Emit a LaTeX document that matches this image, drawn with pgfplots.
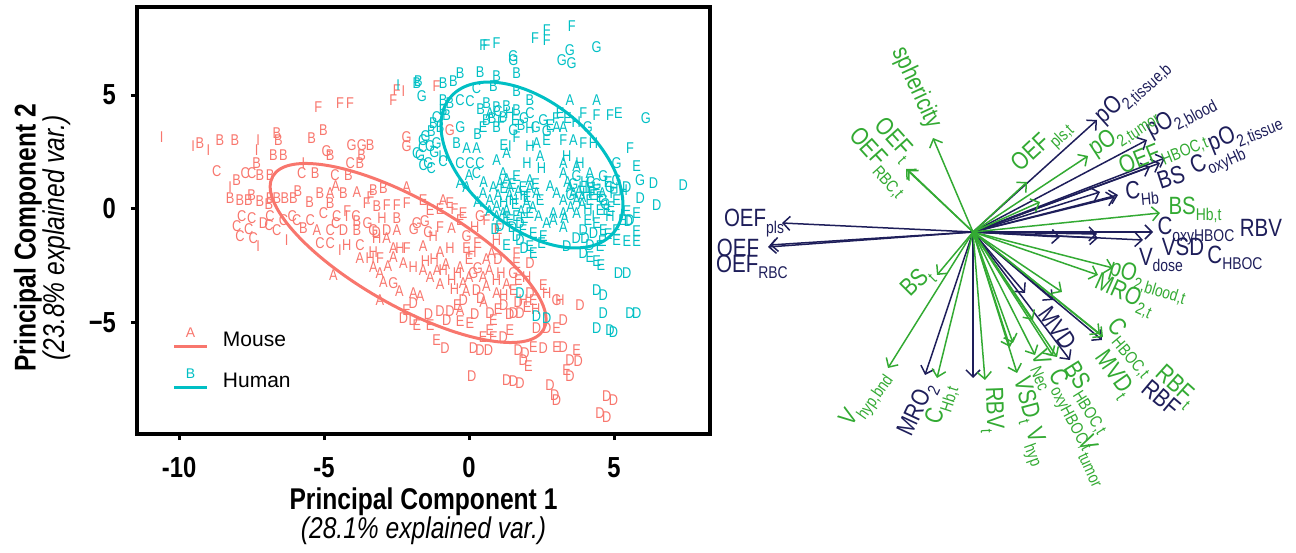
\documentclass[border=0pt]{standalone}
\usepackage{fontspec}
\setmainfont{Liberation Sans}
\newfontfamily\narrow{Liberation Sans}[FakeStretch=0.82]
\usepackage{pgfplots}
\pgfplotsset{compat=1.18}
\usepackage{pgfplotstable}
\usetikzlibrary{arrows.meta}

\definecolor{mouse}{HTML}{F8766D}
\definecolor{human}{HTML}{00BFC4}
\definecolor{navy}{HTML}{1E1E5A}
\definecolor{bgreen}{HTML}{33AA33}

\newcommand{\lsub}[1]{\raisebox{-0.5ex}{\fontsize{8.5}{8.5}\selectfont #1}}
\tikzset{lab/.style={font=\narrow\fontsize{12.5}{12.5}\selectfont, inner sep=0pt, anchor=center}}

% PCA scores, mouse
\pgfplotstableread{
x y l
-10.60 3.17 I
-9.28 2.88 B
-9.51 2.74 I
-8.99 2.59 I
-8.59 3.03 B
-8.07 3.03 B
-7.27 3.03 I
-6.63 3.32 B
-6.57 3.03 B
-5.43 3.10 B
-5.02 3.47 B
-4.05 2.81 G
-3.70 2.81 G
-3.41 2.81 B
-6.75 2.37 B
-6.40 2.37 B
-7.32 2.59 I
-4.91 2.52 G
-4.79 2.37 B
-3.70 2.37 B
-4.10 2.00 C
-3.76 2.00 B
-7.32 2.00 B
-8.70 1.64 C
-7.72 1.57 C
-7.49 1.57 C
-7.21 1.49 B
-6.86 1.49 B
-8.01 1.27 B
-5.77 1.57 C
-5.31 1.57 B
-4.62 1.49 C
-4.16 1.49 B
-5.71 2.00 I
-8.24 0.98 I
-8.24 0.47 B
-7.90 0.40 B
-7.61 0.40 B
-7.21 0.33 B
-6.86 0.47 B
-6.63 0.47 B
-6.35 0.47 B
-6.06 0.47 B
-5.14 0.69 B
-4.79 0.69 A
-4.33 0.69 B
-3.87 0.76 A
-3.30 0.83 B
-2.95 0.91 B
-2.15 0.98 A
-7.84 -0.33 C
-7.49 -0.41 C
-6.86 -0.33 C
-6.40 -0.48 C
-8.01 -0.77 C
-7.09 -0.63 D
-7.90 -1.21 C
-7.44 -1.28 C
-7.27 -1.65 I
-6.63 -0.92 C
-6.29 -1.36 I
-5.94 -0.48 C
-5.48 -0.48 C
-5.71 -0.85 B
-5.25 -0.92 A
-5.14 -1.50 C
-4.79 -1.50 C
-5.02 -0.19 C
-4.79 0.25 B
-3.53 0.25 F
-3.18 0.11 B
-2.84 0.18 F
-2.49 0.18 F
-2.15 0.25 F
-1.58 0.40 E
-1.34 -0.04 E
-0.89 0.40 A
-0.66 0.25 E
-4.56 -0.33 C
-4.22 -0.33 I
-3.87 -0.55 B
-2.49 -0.41 B
-4.79 -0.92 C
-4.33 -0.92 D
-3.87 -0.92 B
-3.30 -0.92 G
-2.84 -0.92 D
-2.49 -0.92 A
-1.80 -0.63 G
-1.52 -0.55 G
-1.00 -0.78 F
-0.60 -0.85 A
-1.23 -1.21 H
-0.08 -1.21 G
0.95 -1.36 H
-4.22 -1.58 H
-3.76 -1.58 C
-3.18 -1.30 H
-2.84 -1.30 A
-4.45 -1.80 I
-2.61 -1.72 A
-2.38 -1.72 H
-2.15 -1.72 F
-1.58 -1.65 A
-0.66 -1.72 H
-0.08 -1.72 E
0.78 -1.94 A
-3.76 -2.16 A
-3.41 -2.16 H
-3.07 -2.16 F
-2.61 -2.09 A
-2.26 -2.38 A
-1.92 -2.53 H
-1.58 -2.67 A
-1.34 -2.97 A
-0.89 -2.67 H
-0.31 -2.53 A
0.15 -2.82 G
0.49 -2.97 A
-0.20 -3.26 A
0.95 -3.11 H
1.53 -2.82 G
1.99 -2.97 H
1.64 -2.38 E
0.26 -3.55 D
0.95 -3.70 A
1.53 -3.55 E
2.10 -3.70 D
2.68 -3.70 H
3.02 -3.99 G
2.56 -3.33 E
2.10 -2.38 D
1.64 -1.94 F
-3.30 -2.53 A
-3.07 -2.82 A
-4.68 -2.89 A
-2.95 -3.19 A
-2.61 -3.26 G
-1.92 -3.70 A
-1.69 -3.84 A
-3.07 -3.99 A
-1.92 -4.13 D
-2.15 -4.43 E
-2.26 -4.79 D
-1.92 -4.87 D
-1.80 -5.08 E
-1.34 -5.08 E
-1.00 -4.50 D
-0.66 -4.50 D
-0.31 -4.43 A
-0.77 -4.87 D
-0.31 -4.94 E
0.03 -5.01 E
-0.20 -3.99 D
0.72 -4.58 D
0.84 -4.87 E
0.72 -5.31 E
0.49 -5.60 E
0.84 -5.60 E
1.18 -5.60 D
1.41 -5.31 E
1.53 -4.58 D
1.76 -4.58 D
1.87 -3.99 H
2.22 -3.99 E
2.33 -5.23 D
2.68 -5.23 D
3.02 -5.23 E
3.25 -4.87 D
3.83 -4.21 D
2.22 -6.04 E
2.56 -6.11 D
3.02 -6.04 E
3.25 -6.04 D
-1.12 -5.75 E
-0.83 -6.11 D
0.15 -6.11 D
0.38 -6.18 D
0.67 -6.18 D
1.70 -6.18 D
1.93 -6.33 D
1.87 -6.62 D
2.05 -6.91 E
3.48 -6.62 D
3.77 -6.69 D
3.71 -6.18 E
3.37 -7.06 E
3.48 -7.35 D
2.79 -7.72 D
2.96 -8.16 D
3.02 -8.38 D
0.09 -7.35 D
1.30 -7.50 D
1.53 -7.57 D
1.76 -7.64 D
4.75 -8.23 D
4.98 -8.38 D
4.52 -8.96 D
4.75 -9.11 D
3.14 -3.99 H
-5.20 4.49 F
-4.45 4.63 F
-4.10 4.63 F
-2.61 4.78 F
-2.49 5.22 F
-2.26 5.15 I
-1.12 5.37 F
-2.15 3.17 G
-2.15 2.74 G
-0.66 3.47 G
-0.20 -0.19 E
0.38 -0.33 G
0.60 -0.50 F
1.00 -0.90 E
1.00 -2.20 D
2.30 -4.40 H
-1.00 -3.30 A
-0.50 -3.50 H
0.50 -4.10 A
1.20 -4.20 D
0.00 -2.20 E
-1.20 -2.20 H
-0.80 -2.40 A
-0.40 -2.80 H
0.00 -3.00 A
0.30 -2.60 G
0.70 -2.70 A
1.10 -2.80 H
1.30 -3.30 A
1.70 -3.10 E
1.20 -3.80 H
0.60 -3.40 A
0.40 -3.90 D
-0.10 -3.60 A
-0.60 -3.10 H
-1.10 -2.70 A
-1.50 -2.30 H
-1.00 -1.90 A
0.30 -1.50 E
0.60 -2.20 A
0.10 -1.90 H
1.70 -4.10 D
2.00 -4.30 E
1.40 -4.60 D
1.00 -4.40 E
0.20 -4.60 D
-0.40 -4.20 E
-1.40 -4.60 D
-2.40 -3.60 A
-2.80 -2.50 A
-3.30 -1.90 H
-4.60 -0.60 C
-4.20 -0.10 F
-3.90 -0.30 C
-3.50 -0.60 G
-3.00 -0.40 H
-3.20 -1.00 D
-3.40 0.50 F
-5.50 0.30 B
-5.90 0.80 B
-4.60 1.00 A
-6.10 -0.30 C
-6.90 -0.70 C
-7.60 -0.90 C
-7.50 0.60 B
-6.90 0.20 B
-1.90 -0.90 G
-1.40 -1.00 G
-1.00 0.00 E
-0.50 0.00 F
-0.30 -0.50 E
0.20 -0.80 H
}\mousedata

% PCA scores, human
\pgfplotstableread{
x y l
0.49 7.19 F
0.60 7.19 F
0.95 7.27 F
2.28 7.49 F
2.68 7.85 F
2.68 7.41 F
3.54 8.00 F
3.48 6.98 G
3.20 6.54 G
3.54 6.39 G
4.40 7.12 G
1.53 6.54 G
1.53 6.70 G
1.64 5.95 B
-0.31 5.95 B
0.38 6.02 B
0.95 5.81 B
-1.80 5.51 B
-1.75 5.60 B
-0.89 5.51 B
-0.54 5.59 B
-1.63 4.93 G
0.26 5.30 C
0.84 5.37 B
1.64 5.15 B
2.10 4.78 B
-2.44 5.44 I
-0.89 4.78 B
-0.66 4.63 B
-0.31 4.78 C
0.03 4.71 C
0.61 4.63 B
0.95 4.49 B
0.72 4.20 A
1.18 4.05 B
1.64 4.34 B
2.10 4.20 C
2.56 3.91 G
0.49 3.61 E
0.95 3.61 B
1.53 3.47 G
2.10 3.54 H
2.68 3.40 G
3.48 4.78 A
4.40 4.78 A
3.14 4.20 E
3.94 4.20 F
4.40 4.13 F
4.86 4.13 F
5.15 4.20 E
6.10 3.98 G
-1.23 3.76 B
-1.12 4.05 C
-0.77 4.12 B
-0.89 4.34 B
-1.58 3.03 G
-1.34 2.74 G
-1.69 2.37 G
-1.40 2.00 G
-1.12 2.88 G
-1.80 2.44 C
-1.58 1.93 C
-1.00 2.30 I
-0.77 2.30 I
-0.43 2.88 B
-0.31 2.00 C
0.03 2.00 C
0.38 2.00 C
0.26 1.57 C
-0.08 2.66 A
0.26 2.66 A
0.95 2.15 A
1.30 2.44 A
1.41 2.74 I
1.64 3.17 F
2.10 2.74 H
2.45 2.30 A
2.33 2.88 A
2.68 3.03 E
3.02 3.61 A
3.25 3.61 A
3.25 3.03 F
3.60 3.03 A
3.94 2.88 F
4.29 2.88 H
3.37 2.30 H
3.83 2.00 H
5.55 2.65 F
5.09 2.00 G
5.78 1.86 E
3.25 2.00 A
3.71 1.90 A
1.18 1.57 A
1.64 1.42 E
2.10 1.27 A
1.41 0.98 A
1.87 0.98 E
2.33 0.69 A
1.53 0.40 H
1.99 0.25 A
2.45 0.40 E
1.18 -0.19 A
1.64 -0.33 E
2.10 -0.19 E
1.07 1.13 A
0.84 0.98 A
-0.31 1.13 A
-0.08 0.98 A
0.49 0.69 A
0.72 0.40 A
0.95 0.11 A
1.30 -0.04 A
0.95 -0.33 A
3.25 1.57 A
3.71 1.42 G
4.17 1.57 A
4.63 1.42 G
5.09 1.27 G
3.48 0.98 A
3.94 0.98 H
4.40 0.84 E
4.86 0.98 G
5.32 0.84 H
3.25 0.40 A
3.71 0.40 A
4.17 0.40 E
4.63 0.40 G
5.09 0.40 E
3.02 0.69 A
3.60 0.69 A
4.06 0.69 H
4.52 0.54 E
4.98 0.69 F
5.44 0.98 D
3.25 -0.19 A
3.71 -0.19 A
2.91 -0.19 A
2.91 -0.48 A
2.68 -0.63 A
3.25 -0.78 A
4.52 -0.04 E
4.75 -0.06 E
4.29 -0.33 I
4.86 -0.33 H
5.55 -0.48 D
5.78 -0.19 E
5.30 -0.50 E
3.94 -0.92 D
4.29 -1.07 D
4.63 -0.92 E
5.09 -0.92 E
5.09 -1.36 E
5.44 -1.43 E
5.78 -1.43 E
3.37 -1.65 D
4.17 -1.58 D
4.52 -1.65 E
3.94 -1.94 D
4.17 -2.09 E
4.40 -2.30 E
4.55 -2.45 E
5.15 -2.82 D
5.44 -2.82 D
1.07 -0.77 D
1.41 -0.48 E
1.76 -0.63 D
1.64 -1.21 D
1.87 -0.92 E
2.22 -1.07 E
2.10 -1.65 E
2.22 -1.94 E
1.76 -1.36 D
2.56 -1.21 E
1.76 -3.70 D
4.40 -3.55 D
4.63 -3.77 D
5.55 -4.58 D
5.78 -4.58 D
4.63 -4.58 D
4.40 -5.23 D
4.98 -5.38 D
4.86 -5.31 D
2.33 -4.72 D
2.68 -4.79 D
5.90 1.27 G
6.36 1.13 D
7.39 1.06 D
5.90 0.47 D
6.47 0.18 D
5.44 -0.11 E
5.50 -0.55 D
5.78 -0.99 E
2.50 1.80 H
2.80 1.00 A
4.20 1.20 G
4.10 -0.50 E
3.90 0.20 A
2.00 2.00 H
1.20 2.80 E
0.30 3.30 B
-0.30 3.60 G
-1.60 2.70 C
1.30 1.30 A
1.50 1.10 E
1.70 0.80 A
1.90 0.60 H
2.10 0.90 A
2.30 1.10 E
1.40 0.60 A
1.60 0.20 E
1.80 -0.10 A
2.00 0.50 E
2.20 0.10 A
1.20 0.30 H
1.00 0.60 A
1.30 -0.40 E
1.50 -0.80 D
1.90 -0.40 E
2.40 -0.30 A
1.20 0.90 E
3.40 1.20 A
3.60 1.10 G
3.80 0.80 A
4.00 1.20 H
4.20 0.90 E
4.40 1.10 G
4.60 0.70 A
4.80 1.20 E
5.00 0.90 H
3.50 0.60 G
3.90 0.50 A
4.30 0.60 E
4.70 0.20 G
4.90 0.10 E
3.50 0.10 A
4.10 0.00 H
3.30 -0.40 A
4.40 -0.60 E
4.00 -1.30 D
4.80 -1.10 E
4.60 -1.40 E
3.70 -1.30 D
0.40 4.40 B
0.80 4.00 B
1.00 4.30 C
1.30 4.50 B
1.60 3.90 E
1.90 4.00 G
0.60 3.90 B
1.10 3.80 F
1.40 4.20 H
1.80 3.70 B
2.30 3.60 G
2.80 3.70 E
3.00 4.00 F
3.40 4.00 E
3.70 3.80 H
4.10 3.60 G
-1.50 3.20 G
-1.30 3.40 B
-1.00 3.60 B
-1.20 2.50 G
-0.90 2.10 C
-1.30 1.80 C
0.00 1.50 A
0.50 1.20 A
0.30 0.30 A
0.70 -0.10 A
0.90 -0.90 D
1.30 -1.60 E
1.90 -1.70 D
2.50 -1.50 E
}\humandata

% biplot loadings (arrow tips, drawing units)
\pgfplotstableread{
x y u v
0 0 -191 9
0 0 -205 -15
0 0 -203 -13
0 0 124 112
0 0 174 92
0 0 192 74
0 0 187 69
0 0 177 65
0 0 145 37
0 0 127 40
0 0 142 35
0 0 180 0
0 0 170 -8
0 0 124 -2
0 0 87 -5
0 0 125 -6
0 0 97 -128
0 0 129 -108
0 0 52 -61
0 0 80 -68
0 0 -48 -143
0 0 0 -146
}\navyload

\pgfplotstableread{
x y u v
0 0 -40 94
0 0 -65 62
0 0 -67 63
0 0 54 50
0 0 115 76
0 0 67 30
0 0 187 19
0 0 140 -36
0 0 125 -43
0 0 89 -60
0 0 127 -102
0 0 130 -105
0 0 84 -125
0 0 80 -124
0 0 60 -88
0 0 62 -123
0 0 44 -141
0 0 40 -111
0 0 37 -115
0 0 12 -148
0 0 -36 -146
0 0 -85 -136
0 0 -36 -43
}\greenload

\begin{document}
\begin{tikzpicture}
\useasboundingbox (0,0) rectangle (648pt,276pt);

\begin{axis}[
  at={(68.5pt,59pt)}, anchor=south west,
  width=286.5pt, height=213.5pt, scale only axis,
  xmin=-11.45, xmax=8.31, ymin=-9.87, ymax=8.86,
  xtick={-10,-5,0,5}, xticklabels={-10,-5,0,5},
  ytick={-5,0,5}, yticklabels={−5,0,5},
  tick pos=left, tick align=outside,
  major tick length=3pt,
  tick style={line width=1.5pt, black},
  axis line style={line width=1.8pt},
  ticklabel style={font=\narrow\bfseries\fontsize{14.5}{14.5}\selectfont},
  xticklabel style={yshift=-5pt},
  yticklabel style={xshift=-4pt},
  xlabel={{\bfseries Principal Component 1}\\{\itshape (28.1\% explained var.)}},
  ylabel={{\bfseries Principal Component 2}\\{\itshape (23.8\% explained var.)}},
  label style={font=\narrow\fontsize{15}{14.5}\selectfont, align=center},
  xlabel style={at={(axis description cs:0.5,-0.193)}, anchor=center},
  ylabel style={at={(axis description cs:-0.165,0.46)}, anchor=center},
  nodes near coords style={font=\narrow\fontsize{7.8}{7.8}\selectfont, anchor=center, inner sep=0pt},
]
\addplot[draw=none, nodes near coords, point meta=explicit symbolic,
  nodes near coords style={text=mouse}] table[x=x, y=y, meta=l] {\mousedata};
\addplot[draw=none, nodes near coords, point meta=explicit symbolic,
  nodes near coords style={text=human}] table[x=x, y=y, meta=l] {\humandata};

% normal-probability ellipses
\draw[mouse, line width=1.5pt, rotate around={-29.5:(axis cs:-2.10,-1.93)}]
  (axis cs:-2.10,-1.93) ellipse [x radius=77.8pt, y radius=26.6pt];
\draw[human, line width=1.5pt, rotate around={-39.5:(axis cs:2.17,1.93)}]
  (axis cs:2.17,1.93) ellipse [x radius=53pt, y radius=31.3pt];

% legend
\draw[mouse, line width=1.5pt] (axis cs:-10.17,-6.01) -- (axis cs:-9.03,-6.01);
\node[mouse, font=\fontsize{7}{7}\selectfont, inner sep=0pt] at (axis cs:-9.6,-5.42) {A};
\node[anchor=west, inner sep=0pt, font=\fontsize{10.5}{10.5}\selectfont] at (axis cs:-8.5,-5.72) {Mouse};
\draw[human, line width=1.5pt] (axis cs:-10.17,-7.81) -- (axis cs:-9.03,-7.81);
\node[human, font=\fontsize{7}{7}\selectfont, inner sep=0pt] at (axis cs:-9.6,-7.22) {B};
\node[anchor=west, inner sep=0pt, font=\fontsize{10.5}{10.5}\selectfont] at (axis cs:-8.5,-7.52) {Human};
\end{axis}

\begin{axis}[
  at={(357.5pt,0pt)}, anchor=south west,
  width=290.5pt, height=276pt, scale only axis,
  xmin=-258, xmax=323, ymin=-320, ymax=232,
  hide axis, clip=false,
]
\addplot[navy, line width=0.75pt, -{Straight Barb[length=3.5pt,width=7pt]},
  quiver={u=\thisrow{u}, v=\thisrow{v}}] table {\navyload};
\addplot[bgreen, line width=0.75pt, -{Straight Barb[length=3.5pt,width=7pt]},
  quiver={u=\thisrow{u}, v=\thisrow{v}}] table {\greenload};

\node[lab, navy] at (axis cs:-219,9) {OEF\lsub{pls}};
\node[lab, navy] at (axis cs:-235,-16) {OEF};
\node[lab, navy] at (axis cs:-221,-35) {OEF\lsub{RBC}};
\node[lab, navy, rotate=42] at (axis cs:160,140) {pO\lsub{2,tissue,b}};
\node[lab, navy, rotate=28] at (axis cs:208,115) {pO\lsub{2,blood}};
\node[lab, navy, rotate=22] at (axis cs:272,99) {pO\lsub{2,tissue}};
\node[lab, navy, rotate=18] at (axis cs:198,55) {BS};
\node[lab, navy, rotate=24] at (axis cs:245,72) {C\lsub{oxyHb}};
\node[lab, navy, rotate=5] at (axis cs:169,39) {C\lsub{Hb}};
\node[lab, navy] at (axis cs:223,1) {C\lsub{oxyHBOC}};
\node[lab, navy] at (axis cs:288,4) {RBV};
\node[lab, navy] at (axis cs:210,-15) {VSD};
\node[lab, navy] at (axis cs:188,-28) {V\lsub{dose}};
\node[lab, navy] at (axis cs:262,-26) {C\lsub{HBOC}};
\node[lab, navy, rotate=-55] at (axis cs:85,-96) {MVD};
\node[lab, navy, rotate=-40] at (axis cs:188,-166) {RBF};
\node[lab, navy, rotate=65] at (axis cs:-55,-178) {MRO\lsub{2}};

\node[lab, bgreen, rotate=-65] at (axis cs:-57,144) {sphericity};
\node[lab, bgreen, rotate=-48] at (axis cs:-80,92) {OEF\lsub{t}};
\node[lab, bgreen, rotate=-48] at (axis cs:-95,69) {OEF\lsub{RBC,t}};
\node[lab, bgreen, rotate=43] at (axis cs:70,85) {OEF\lsub{pls,t}};
\node[lab, bgreen, rotate=33] at (axis cs:151,99) {pO\lsub{2,tumor}};
\node[lab, bgreen, rotate=22] at (axis cs:190,78) {OEF\lsub{HBOC,t}};
\node[lab, bgreen] at (axis cs:222,22) {BS\lsub{Hb,t}};
\node[lab, bgreen, rotate=-17] at (axis cs:175,-50) {pO\lsub{2,blood,t}};
\node[lab, bgreen, rotate=-24] at (axis cs:151,-64) {MRO\lsub{2,t}};
\node[lab, bgreen, rotate=-50] at (axis cs:157,-116) {C\lsub{HBOC,t}};
\node[lab, bgreen, rotate=-55] at (axis cs:140,-143) {MVD\lsub{t}};
\node[lab, bgreen, rotate=-42] at (axis cs:202,-155) {RBF\lsub{t}};
\node[lab, bgreen, rotate=-58] at (axis cs:114,-166) {BS\lsub{HBOC,t}};
\node[lab, bgreen, rotate=-62] at (axis cs:99,-178) {C\lsub{oxyHBOC,t}};
\node[lab, bgreen, rotate=-65] at (axis cs:120,-229) {V\lsub{tumor}};
\node[lab, bgreen, rotate=-68] at (axis cs:70,-138) {V\lsub{Nec}};
\node[lab, bgreen, rotate=-75] at (axis cs:52,-168) {VSD\lsub{t}};
\node[lab, bgreen, rotate=-70] at (axis cs:62,-215) {V\lsub{hyp}};
\node[lab, bgreen, rotate=-88] at (axis cs:19,-178) {RBV\lsub{t}};
\node[lab, bgreen, rotate=72] at (axis cs:-31,-173) {C\lsub{Hb,t}};
\node[lab, bgreen, rotate=55] at (axis cs:-106,-168) {V\lsub{hyp,bnd}};
\node[lab, bgreen, rotate=45] at (axis cs:-55,-51) {BS\lsub{t}};
\end{axis}
\end{tikzpicture}
\end{document}
